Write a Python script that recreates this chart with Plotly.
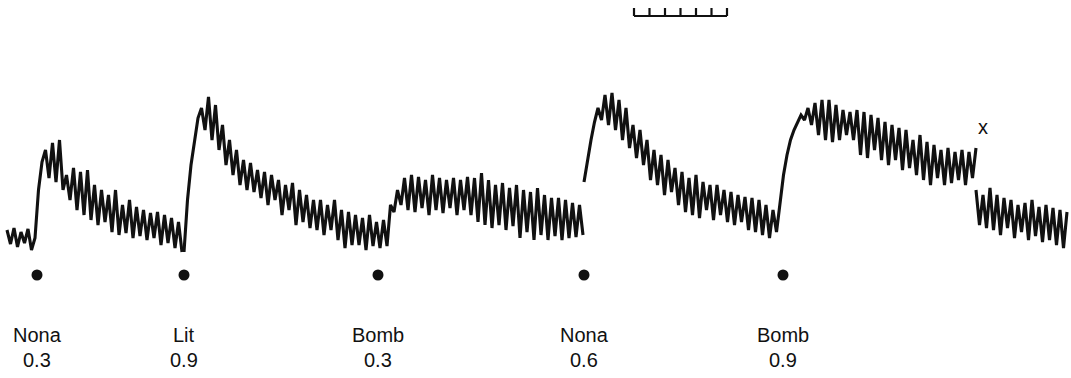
import numpy as np
import plotly.graph_objects as go

# ---------------- data (time in chart units, response) ----------------
sample_step = 3.5

seg_a_start = 7
seg_a = [230, 244, 228, 247, 232, 243, 229, 250, 238,
         190, 162, 150, 178, 143, 182, 140, 190,
         175, 200, 168, 210, 172, 215, 170, 220,
         185, 225, 190, 222, 195, 232, 190, 235,
         205, 233, 200, 238, 207, 236, 210, 240,
         213, 238, 212, 245, 215, 243, 218, 248,
         222, 252]

seg_b_start = 184
seg_b = [252, 200, 165, 140, 118, 108, 130, 97, 140, 105, 150, 125, 165, 140, 175,
         150, 185, 160, 190, 163, 192, 170, 198, 172, 205, 175, 200, 180, 215, 185,
         210, 183, 225, 190, 222, 195, 228, 200, 230, 200, 235, 205, 230, 200, 240,
         210, 248, 212, 245, 215, 245, 218, 250, 215, 246, 222, 248, 220, 246,
         205, 212, 190, 205, 178, 210, 175, 212, 177, 208, 180, 215, 175, 210, 178,
         213, 180, 208, 178, 215, 180, 210, 177, 215, 178, 222, 173, 225, 180, 228,
         185, 225, 183, 230, 188, 226, 185, 238, 190, 232, 192, 240, 188, 235, 195,
         240, 198, 236, 198, 240, 200, 238, 203, 237, 205, 235]

seg_c_start = 584
seg_c = [182, 160, 140, 122, 108, 120, 95, 125, 93, 130, 100, 140, 108, 148, 125,
         158, 130, 165, 140, 180, 150, 185, 155, 195, 160, 192, 168, 205, 172, 212,
         178, 215, 175, 218, 182, 210, 185, 220, 185, 215, 190, 222, 192, 225, 195,
         222, 197, 230, 198, 232, 200, 235, 205, 238, 210, 232,
         205, 175, 155, 140, 130, 122, 115, 120, 108, 125, 103, 135, 100, 140, 100,
         142, 105, 140, 110, 135, 112, 140, 110, 155, 112, 158, 115, 150, 118, 160,
         122, 165, 125, 160, 128, 170, 130, 168, 140, 175, 135, 180, 142, 185, 145,
         178, 150, 185, 148, 183, 152, 180, 150, 185, 152, 178, 148]

seg_d_start = 976
seg_d = [190, 225, 195, 228, 188, 230, 195, 235, 198, 228, 200, 238, 205, 232, 203,
         240, 200, 236, 207, 242, 205, 240, 208, 245, 210, 248, 212]

segments = [(seg_a_start, seg_a), (seg_b_start, seg_b),
            (seg_c_start, seg_c), (seg_d_start, seg_d)]

stim_x = [37, 184, 378, 584, 783]
stim_y = 275
drug_names = ["Nona", "Lit", "Bomb", "Nona", "Bomb"]
drug_doses = ["0.3", "0.9", "0.3", "0.6", "0.9"]

washout_x, washout_y = 983, 127

scale_divisions = 6
scale_unit = 15.5
scale_origin_x = 634

# ---------------- figure ----------------
fig = go.Figure()
ink = "#111111"

for x0, ys in segments:
    xs = x0 + sample_step * np.arange(len(ys))
    fig.add_trace(go.Scatter(x=xs, y=ys, mode="lines",
                             line=dict(color=ink, width=3.1),
                             hoverinfo="skip", showlegend=False))

# stimulus dots
fig.add_trace(go.Scatter(x=stim_x, y=[stim_y] * len(stim_x), mode="markers",
                         marker=dict(color=ink, size=11),
                         hoverinfo="skip", showlegend=False))

# labels
font = dict(family="Liberation Sans, Arial, sans-serif", size=20, color=ink)
for x, name, dose in zip(stim_x, drug_names, drug_doses):
    fig.add_annotation(x=x, y=335, text=name, showarrow=False, font=font,
                       xanchor="center", yanchor="middle")
    fig.add_annotation(x=x, y=360, text=dose, showarrow=False, font=font,
                       xanchor="center", yanchor="middle")

fig.add_annotation(x=washout_x, y=washout_y, text="x", showarrow=False,
                   font=dict(family="Liberation Sans, Arial, sans-serif", size=20, color=ink),
                   xanchor="center", yanchor="middle")

# time scale bar
tick_xs = [scale_origin_x + scale_unit * i for i in range(scale_divisions + 1)]
bx, by = [], []
bx += [tick_xs[0], tick_xs[-1], None]
by += [16, 16, None]
for tx in tick_xs:
    bx += [tx, tx, None]
    by += [16, 8, None]
fig.add_trace(go.Scatter(x=bx, y=by, mode="lines",
                         line=dict(color=ink, width=2.2),
                         hoverinfo="skip", showlegend=False))

fig.update_layout(
    width=1071, height=378,
    margin=dict(l=0, r=0, t=0, b=0),
    paper_bgcolor="white", plot_bgcolor="white",
    xaxis=dict(range=[0, 1071], visible=False, fixedrange=True),
    yaxis=dict(range=[378, 0], visible=False, fixedrange=True),
)

fig.write_html("out.html", config={"displayModeBar": False},
               post_script="document.body.style.margin='0px';document.body.style.overflow='hidden';")
